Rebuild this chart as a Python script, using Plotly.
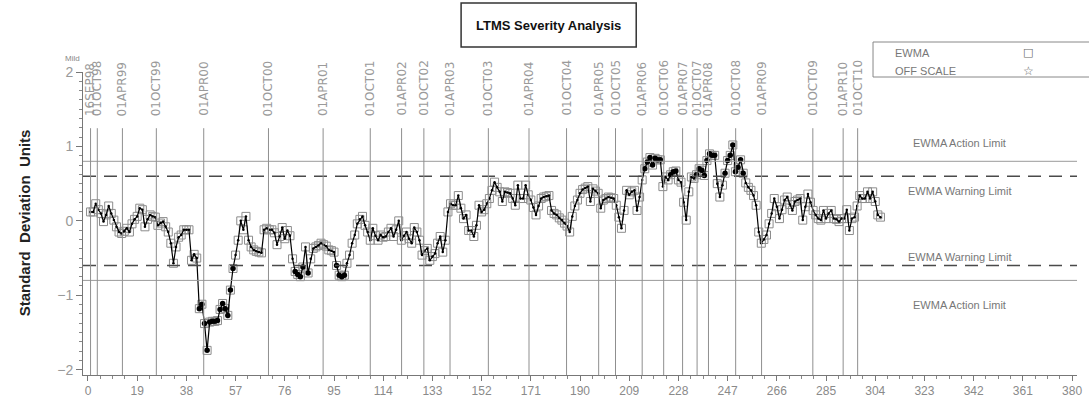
import plotly.graph_objects as go

# EWMA values by test number
ewma = [
    0.12, 0.12, 0.23, 0.15, 0.10, -0.01, 0.08, 0.20, 0.10, 0.01,
    -0.08, -0.15, -0.17, -0.14, -0.10, -0.15, -0.04, 0.02, 0.06, 0.17,
    0.15, -0.08, 0.02, 0.08, 0.06, 0.05, -0.06, -0.03, -0.01, -0.08,
    -0.15, -0.30, -0.57, -0.35, -0.22, -0.19, -0.12, -0.12, -0.12, -0.53,
    -0.45, -0.50, -1.18, -1.12, -1.38, -1.74, -1.36, -1.35, -1.35, -1.34,
    -1.19, -1.11, -1.18, -1.27, -0.93, -0.64, -0.46, -0.26, 0.00, -0.12,
    0.06, -0.26, -0.35, -0.39, -0.41, -0.42, -0.43, -0.12, -0.10, -0.12,
    -0.12, -0.16, -0.32, -0.21, -0.09, -0.24, -0.13, -0.20, -0.51, -0.68,
    -0.72, -0.75, -0.62, -0.35, -0.70, -0.51, -0.37, -0.35, -0.33, -0.30,
    -0.32, -0.34, -0.39, -0.40, -0.42, -0.60, -0.73, -0.75, -0.73, -0.57,
    -0.46, -0.30, -0.19, -0.04, 0.02, 0.06, -0.06, -0.15, -0.26, -0.10,
    -0.20, -0.26, -0.19, -0.22, -0.21, -0.15, -0.10, -0.21, -0.12, 0.00,
    -0.26, -0.20, -0.15, -0.24, -0.30, -0.09, -0.15, -0.26, -0.46, -0.40,
    -0.37, -0.53, -0.48, -0.44, -0.30, -0.21, -0.42, -0.26, 0.12, 0.23,
    0.21, 0.21, 0.34, 0.17, 0.03, 0.08, -0.13, -0.13, -0.21, -0.06,
    0.21, 0.12, 0.15, 0.23, 0.30, 0.41, 0.52, 0.45, 0.39, 0.26,
    0.39, 0.38, 0.37, 0.30, 0.21, 0.48, 0.30, 0.30, 0.48, 0.35,
    0.28, 0.18, 0.08, 0.20, 0.30, 0.32, 0.33, 0.34, 0.14, 0.10,
    0.08, 0.04, 0.01, -0.03, -0.07, -0.15, 0.06, 0.20, 0.28, 0.37,
    0.42, 0.44, 0.46, 0.26, 0.43, 0.40, 0.37, 0.17, 0.28, 0.30,
    0.32, 0.31, 0.30, 0.21, 0.05, -0.10, 0.14, 0.41, 0.35, 0.39,
    0.41, 0.14, 0.32, 0.55, 0.70, 0.79, 0.85, 0.75, 0.84, 0.82,
    0.82, 0.46, 0.59, 0.55, 0.62, 0.66, 0.67, 0.55, 0.52, 0.25,
    0.01, 0.39, 0.59, 0.57, 0.62, 0.70, 0.68, 0.61, 0.81, 0.90,
    0.88, 0.88, 0.50, 0.32, 0.48, 0.64, 0.81, 0.88, 1.02, 0.66,
    0.72, 0.82, 0.64, 0.51, 0.45, 0.41, 0.34, 0.21, -0.15, -0.30,
    -0.25, -0.19, -0.04, 0.10, 0.30, 0.19, 0.03, 0.15, 0.28, 0.32,
    0.22, 0.14, 0.26, 0.28, 0.30, 0.01, 0.19, 0.36, 0.25, 0.14,
    0.08, 0.03, 0.01, 0.14, 0.03, 0.10, 0.14, 0.03, 0.02, -0.01,
    0.03, 0.03, 0.15, -0.13, 0.03, 0.05, 0.20, 0.34, 0.30, 0.30,
    0.39, 0.30, 0.39, 0.26, 0.08, 0.05,
]
test_no = list(range(1, len(ewma) + 1))

# calendar markers (test number where each date falls)
date_labels = [
    '16SEP98', '01OCT98', '01APR99', '01OCT99', '01APR00', '01OCT00',
    '01APR01', '01OCT01', '01APR02', '01OCT02', '01APR03', '01OCT03',
    '01APR04', '01OCT04', '01APR05', '01OCT05', '01APR06', '01OCT06',
    '01APR07', '01OCT07', '01APR08', '01OCT08', '01APR09', '01OCT09',
    '01APR10', '01OCT10',
]
date_pos = [
    1.0, 3.6, 13.3, 26.4, 44.7, 69.7, 90.8, 109.0, 121.1, 129.7, 139.8,
    154.6, 170.3, 184.8, 197.2, 203.7, 214.0, 222.3, 229.6, 235.2, 239.6,
    250.1, 260.1, 279.9, 291.6, 297.2,
]

action_limit = 0.8
warning_limit = 0.6
x_ticks = [0, 19, 38, 57, 76, 95, 114, 133, 152, 171, 190, 209, 228, 247,
           266, 285, 304, 323, 342, 361, 380]
y_ticks = [-2, -1, 0, 1, 2]

W, H = 1089, 407
L, R, T, B = 83, 7, 72, 32
XR = [-1.92, 381.9]
YR = [-2.071, 2.0]


def px(x):
    return (x - L) / (W - L - R)


def py(y):
    return (H - B - y) / (H - T - B)


FONT = 'Liberation Sans Narrow, Liberation Sans, Arial'


def label(xpix, ypix, text, size, color, family=FONT, angle=0,
          xanchor='center'):
    return dict(x=px(xpix), y=py(ypix), xref='paper', yref='paper',
                text=text, textangle=angle, showarrow=False,
                xanchor=xanchor, yanchor='middle',
                font=dict(family=family, size=size, color=color))


fig = go.Figure()

fig.add_trace(go.Scatter(
    x=test_no, y=ewma, mode='markers',
    marker=dict(symbol='square-open', size=8, color='#8c8c8c',
                line=dict(width=1)),
    hoverinfo='skip', showlegend=False,
))
fig.add_trace(go.Scatter(
    x=test_no, y=ewma, mode='lines+markers',
    line=dict(color='black', width=1.2),
    marker=dict(symbol='circle', size=2.5, color='black'),
    showlegend=False,
))
out_x = [t for t, v in zip(test_no, ewma) if abs(v) >= warning_limit]
out_y = [v for v in ewma if abs(v) >= warning_limit]
fig.add_trace(go.Scatter(
    x=out_x, y=out_y, mode='markers',
    marker=dict(symbol='circle', size=5.5, color='black'),
    showlegend=False,
))

shapes = []
# limit lines
for s in (1, -1):
    shapes.append(dict(type='line', xref='x', yref='y', x0=XR[0], x1=XR[1],
                       y0=s * action_limit, y1=s * action_limit,
                       line=dict(color='#9a9a9a', width=1)))
    shapes.append(dict(type='line', xref='x', yref='y', x0=XR[0], x1=XR[1],
                       y0=s * warning_limit, y1=s * warning_limit,
                       line=dict(color='#4a4a4a', width=1.6, dash='13px,8px')))
# date lines
for d in date_pos:
    shapes.append(dict(type='line', xref='x', yref='y', x0=d, x1=d,
                       y0=YR[0], y1=1.245,
                       line=dict(color='#8f8f8f', width=1)))
# title box
shapes.append(dict(type='rect', xref='paper', yref='paper',
                   x0=px(463), x1=px(639), y0=py(47), y1=py(3),
                   line=dict(color='#333333', width=1.5)))
# legend box
shapes.append(dict(type='rect', xref='paper', yref='paper',
                   x0=px(877), x1=px(1100), y0=py(77), y1=py(42),
                   line=dict(color='#888888', width=1)))

annotations = []
for lab, d in zip(date_labels, date_pos):
    annotations.append(dict(x=d, xref='x', y=py(118), yref='paper',
                            text=lab, textangle=-90, showarrow=False,
                            xanchor='center', yanchor='bottom',
                            font=dict(family='DejaVu Sans', size=12,
                                      color='#9a9a9a')))

limit_text = [
    ('EWMA Action Limit', 143),
    ('EWMA Warning Limit', 191),
    ('EWMA Warning Limit', 257),
    ('EWMA Action Limit', 305),
]
for txt, ypix in limit_text:
    annotations.append(label(964, ypix, txt, 11, '#777777'))

annotations += [
    label(551, 25, '<b>LTMS Severity Analysis</b>', 13, '#111111'),
    label(24, 223, '<b>Standard\u00a0 Deviation\u00a0 Units</b>', 15,
          '#222222', family='Liberation Sans, Arial', angle=-90),
    label(72, 58, 'Mild', 8, '#888888'),
    label(897, 53, 'EWMA', 11, '#777777', xanchor='left'),
    label(897, 71, 'OFF SCALE', 11, '#777777', xanchor='left'),
    label(1033, 52, '□', 11, '#666666', family='DejaVu Sans'),
    label(1033, 71, '☆', 12, '#666666', family='DejaVu Sans'),
]

fig.update_layout(
    width=W, height=H,
    margin=dict(l=L, r=R, t=T, b=B, pad=0),
    paper_bgcolor='white', plot_bgcolor='white',
    shapes=shapes, annotations=annotations,
    showlegend=False,
    xaxis=dict(range=XR, tickmode='array', tickvals=x_ticks,
               ticks='outside', ticklen=5, tickcolor='#777777',
               showline=True, linecolor='#777777', linewidth=1,
               showgrid=False, zeroline=False,
               tickfont=dict(family=FONT, size=12, color='#8a8a8a'),
               minor=dict(dtick=4.75, tick0=0, ticks='outside', ticklen=3,
                          tickcolor='#888888', showgrid=False)),
    yaxis=dict(range=YR, tickmode='array', tickvals=y_ticks,
               ticktext=['\u22122', '\u22121', '0', '1', '2'],
               ticks='outside', ticklen=6, tickcolor='#777777',
               showline=True, linecolor='#777777', linewidth=1,
               showgrid=False, zeroline=False,
               tickfont=dict(family=FONT, size=14, color='#999999'),
               minor=dict(dtick=0.125, tick0=0, ticks='outside', ticklen=3,
                          tickcolor='#888888', showgrid=False)),
)

# drop the default page margin so the figure sits at the window origin
fig.write_html('out.html', config={'displayModeBar': False},
               post_script="document.body.style.margin='0';")
